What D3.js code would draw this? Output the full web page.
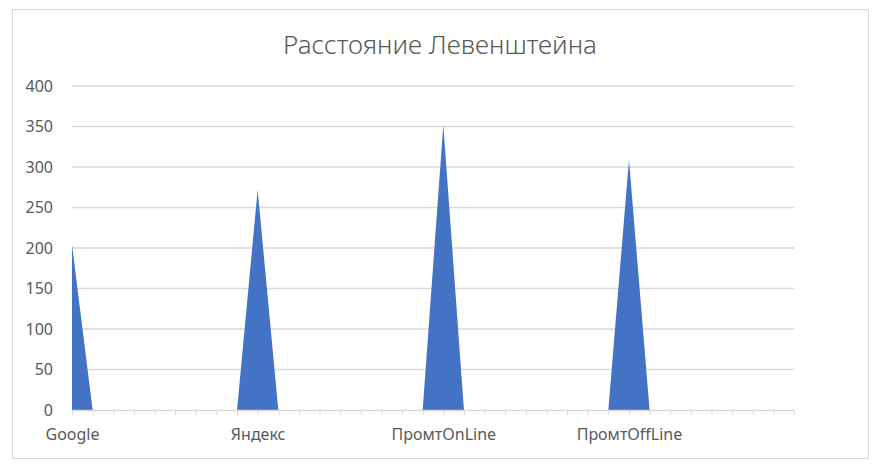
<!DOCTYPE html>
<html lang="ru">
<head>
<meta charset="utf-8">
<title>Расстояние Левенштейна</title>
<script src="https://d3js.org/d3.v7.min.js"></script>
<style>
  body { margin: 0; background: #fff; }
  text { font-family: "Noto Sans", "Open Sans", sans-serif; fill: #595959; }
</style>
</head>
<body>
<svg id="chart"></svg>
<script>
    // categories (only every 9th one is labelled in the picture)
    const categories = [
        "Google", "", "", "", "", "", "", "", "",
        "Яндекс", "", "", "", "", "", "", "", "",
        "ПромтOnLine", "", "", "", "", "", "", "", "",
        "ПромтOffLine", "", "", "", "", "", "", "", ""
    ];
    const values = [
        204, 0, 0, 0, 0, 0, 0, 0, 0,
        272, 0, 0, 0, 0, 0, 0, 0, 0,
        352, 0, 0, 0, 0, 0, 0, 0, 0,
        309, 0, 0, 0, 0, 0, 0, 0, 0
    ];
    const yTicks = [0, 50, 100, 150, 200, 250, 300, 350, 400];
    const title = "Расстояние Левенштейна";

    let width = 880, height = 466,
        margin = {top: 86, right: 86, bottom: 56, left: 72},
        chartWidth = width - margin.left - margin.right,
        chartHeight = height - margin.top - margin.bottom;

    let svg = d3.select("#chart")
        .attr("width", width)
        .attr("height", height);

    // chart frame
    svg.append("rect")
        .attr("x", 12.5).attr("y", 9.5)
        .attr("width", 856).attr("height", 449)
        .attr("fill", "#fff")
        .attr("stroke", "#d9d9d9");

    svg.append("text")
        .attr("x", 440).attr("y", 54)
        .attr("text-anchor", "middle")
        .style("font-size", "26px")
        .style("font-weight", 300)
        .text(title);

    let x = d3.scalePoint()
        .domain(d3.range(categories.length))
        .range([0, chartWidth]);

    let y = d3.scaleLinear()
        .domain([0, 400])
        .range([chartHeight, 0]);

    let chartArea = svg.append("g")
        .attr("transform", `translate(${margin.left},${margin.top})`);

    // gridlines
    chartArea.append("g")
        .selectAll("line")
        .data(yTicks.filter(d => d > 0))
        .join("line")
        .attr("x1", 0).attr("x2", chartWidth)
        .attr("y1", d => y(d)).attr("y2", d => y(d))
        .attr("stroke", "#d9d9d9")
        .attr("stroke-width", 1.3);

    // y axis labels
    let yAxis = chartArea.append("g")
        .call(d3.axisLeft(y).tickValues(yTicks).tickSize(0).tickPadding(19));
    yAxis.select(".domain").remove();
    yAxis.selectAll("text")
        .style("font-size", "16px")
        .attr("fill", "#595959");

    // area
    let area = d3.area()
        .x((d, i) => x(i))
        .y0(y(0))
        .y1(d => y(d));

    chartArea.append("path")
        .datum(values)
        .attr("fill", "#4472c4")
        .attr("d", area);

    // x axis
    let xAxis = chartArea.append("g")
        .attr("transform", `translate(0,${chartHeight})`)
        .call(d3.axisBottom(x)
            .tickSize(5)
            .tickSizeOuter(0)
            .tickPadding(14)
            .tickFormat(i => categories[i]));
    xAxis.select(".domain").attr("stroke", "#d9d9d9").attr("stroke-width", 1.3);
    xAxis.selectAll(".tick line").attr("stroke", "#d9d9d9");
    xAxis.selectAll("text")
        .style("font-size", "16px")
        .attr("fill", "#595959");
</script>
</body>
</html>
